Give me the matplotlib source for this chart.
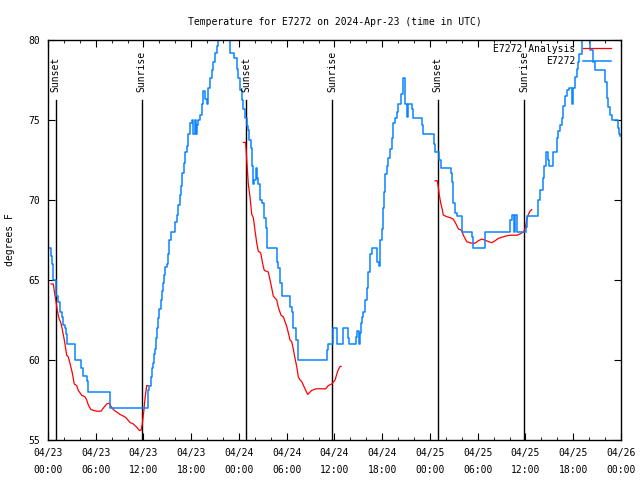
import numpy as np
import matplotlib
matplotlib.use('Agg')
import matplotlib.pyplot as plt
from matplotlib.ticker import MultipleLocator

nan = np.nan

# hours since 2024-04-23 00:00 UTC, temperature in F
obs_h = [0.00, 0.34, 0.46, 0.67, 1.01, 1.26, 1.51, 1.80, 1.92, 2.14, 2.26, 2.39, 3.39, 4.11, 4.44,
         4.86, 4.99, 7.79, 12.60, 12.73, 12.91, 13.11, 13.23, 13.32, 13.45, 13.57, 13.74, 13.86,
         13.99, 14.16, 14.29, 14.42, 14.58, 14.70, 14.92, 15.12, 15.24, 15.42, 15.96, 16.17, 16.37,
         16.59, 16.71, 16.88, 17.09, 17.22, 17.43, 17.63, 17.84, 18.06, 18.25, 18.45, 18.55, 18.69,
         18.89, 19.10, 19.31, 19.52, 19.73, 19.94, 20.14, 20.36, 20.57, 20.77, 20.99, 21.20, 21.40,
         21.61, 21.87, 22.12, 22.37, 22.65, 22.87, 23.40, 23.71, 23.91, 24.13, 24.34, 24.54, 24.76,
         24.97, 25.17, 25.30, 25.47, 25.60, 25.72, 25.89, 26.10, 26.23, 26.43, 26.64, 26.93, 27.14,
         27.39, 27.48, 28.74, 28.94, 29.15, 29.37, 30.41, 30.62, 30.75, 31.16, 31.38, 31.45, 35.10,
         35.22, 35.78, 36.28, 36.36, 37.03, 37.74, 37.86, 38.70, 38.87, 39.02, 39.21, 39.33, 39.50,
         39.62, 39.84, 40.05, 40.25, 40.46, 40.68, 41.31, 41.56, 41.66, 41.72, 41.93, 42.06, 42.22,
         42.35, 42.56, 42.76, 42.98, 43.19, 43.39, 43.61, 43.82, 44.02, 44.32, 44.57, 44.65, 44.86,
         45.07, 45.27, 45.70, 45.91, 46.96, 47.16, 48.51, 48.63, 49.17, 49.35, 50.60, 50.73, 50.86,
         50.93, 51.15, 51.36, 52.06, 53.24, 53.37, 54.91, 58.06, 58.27, 58.56, 58.69, 58.97, 60.03,
         60.16, 61.61, 61.83, 62.24, 62.37, 62.58, 62.83, 63.00, 63.50, 63.92, 64.12, 64.34, 64.55,
         64.75, 64.97, 65.18, 65.51, 65.85, 66.03, 66.22, 66.44, 66.56, 66.76, 67.07, 67.23, 67.48,
         67.73, 67.98, 68.11, 68.52, 68.74, 69.99, 70.20, 70.41, 70.62, 70.84, 71.67, 71.79, 71.88]
obs_t = [67.0, 66.5, 66.0, 65.0, 64.0, 63.6, 63.0, 62.7, 62.2, 62.0, 61.6, 61.0, 60.0, 59.5, 59.0,
         58.7, 58.0, 57.0, 58.1, 58.4, 58.95, 59.5, 59.8, 60.4, 60.7, 61.35, 62.0, 62.6,
         63.2, 63.75, 64.3, 64.8, 65.3, 65.8, 66.0, 66.6, 67.5, 68.0, 68.6, 69.06, 69.7,
         70.3, 70.9, 71.7, 72.3, 73.0, 73.4, 74.1, 74.8, 75.0, 74.1, 75.0, 74.1, 74.7,
         75.0, 75.3, 76.0, 76.8, 76.3, 76.0, 77.0, 77.6, 78.1, 78.6, 79.2, 79.6, 80.0,
         80.5, 81.0, 80.5, 81.0, 80.0, 79.2, 78.9, 78.2, 77.6, 76.9, 76.25, 75.7, 75.1,
         74.6, 74.4, 73.75, 73.25, 72.1, 71.0, 71.25, 72.0, 71.4, 71.0, 70.0, 69.8, 68.9,
         68.25, 67.0, 66.1, 65.75, 64.8, 64.0, 63.3, 63.0, 62.0, 61.25, 60.6, 60.0, 60.6,
         61.0, 62.0, 61.45, 61.0, 62.0, 61.35, 61.0, 61.45, 61.8, 61.0, 61.7, 62.3, 62.7,
         63.0, 63.75, 64.5, 65.5, 66.6, 67.0, 66.1, 65.9, 66.5, 67.5, 68.2, 69.5, 70.5,
         71.6, 72.1, 72.6, 73.2, 73.85, 74.8, 75.1, 75.5, 76.0, 76.6, 77.0, 77.6, 76.0,
         75.2, 76.0, 75.7, 75.1, 74.7, 74.1, 73.5, 73.0, 72.5, 72.0, 71.7, 71.1, 70.5,
         69.8, 69.2, 69.0, 68.0, 67.7, 67.0, 68.0, 68.75, 69.06, 68.0, 69.06, 68.0, 68.3,
         69.0, 70.0, 70.6, 71.35, 72.1, 73.0, 72.5, 72.1, 73.0, 73.85, 74.3, 74.7, 75.1,
         75.9, 76.5, 76.9, 77.0, 76.0, 77.0, 77.7, 78.2, 78.6, 79.1, 80.0, 80.5, 80.0,
         80.5, 80.0, 79.4, 78.6, 78.1, 77.4, 76.4, 75.8, 75.3, 75.0, 74.5, 74.1, 74.0]

ana_h = [0.38, 0.67, 0.79, 1.01, 1.17, 1.38, 1.63, 1.80, 2.05, 2.35, 2.55, 2.76, 3.05, 3.30, 3.61,
         3.81, 4.23, 4.65, 4.86, 5.06, 5.40, 6.12, 6.66, 6.95, 7.38, 7.67, 7.92, 8.21, 8.63, 9.05,
         9.46, 9.79, 10.30, 10.72, 11.15, 11.47, 11.69, 11.85, 12.06, 12.19, 12.40, 12.60, nan,
         24.54, 24.82, 24.89, 24.97, 25.17, 25.38, 25.60, 25.80, 26.01, 26.23, 26.43, 26.73, 26.98,
         27.18, 27.68, 27.90, 28.11, 28.31, 28.74, 28.94, 29.28, 29.57, 29.78, 30.00, 30.20, 30.41,
         30.62, 30.82, 31.04, 31.25, 31.45, 31.67, 31.88, 32.30, 32.63, 33.14, 33.68, 34.39, 34.90,
         35.22, 35.65, 36.07, 36.40, 36.69, 36.82, nan,
         48.63, 48.92, 49.05, 49.17, 49.35, 49.55, 49.67, 50.10, 50.52, 50.93, 51.27, 51.56, 51.99,
         52.19, 52.61, 53.24, 53.66, 54.07, 54.50, 54.91, 55.33, 55.76, 56.17, 56.59, 57.01, 57.55,
         58.06, 58.97, 59.40, 59.73, 59.94, 60.16, 60.36, 60.57, 60.78]
ana_t = [64.75, 64.75, 64.3, 63.65, 63.1, 62.6, 62.3, 61.9, 61.25, 60.3, 60.2, 59.8, 59.2, 58.5, 58.4,
         58.1, 57.8, 57.7, 57.5, 57.2, 56.9, 56.8, 56.8, 57.0, 57.25, 57.3, 57.1, 56.9, 56.75, 56.6,
         56.5, 56.4, 56.1, 56.0, 55.8, 55.6, 55.6, 56.0, 56.9, 57.6, 58.4, 58.4, nan,
         73.6, 73.6, 73.2, 72.5, 71.0, 70.2, 69.1, 68.9, 68.1, 67.3, 66.8, 66.7, 66.0,
         65.6, 65.5, 65.0, 64.5, 64.0, 63.75, 63.3, 62.8, 62.7, 62.4, 62.1, 61.7, 61.25,
         61.15, 60.7, 60.1, 59.6, 58.95, 58.75, 58.65, 58.2, 57.85, 58.1, 58.2, 58.2, 58.2,
         58.4, 58.5, 58.75, 59.3, 59.6, 59.6, nan,
         71.2, 71.2, 70.8, 70.3, 69.8, 69.4, 69.06, 68.96, 68.9, 68.8, 68.5, 68.2, 68.1,
         67.8, 67.4, 67.3, 67.3, 67.45, 67.56, 67.5, 67.4, 67.33, 67.45, 67.6, 67.67, 67.75,
         67.8, 67.8, 67.9, 68.0, 68.2, 68.75, 69.1, 69.3, 69.4]

sun_h = [0.95, 11.75, 24.92, 35.73, 48.97, 59.87]
sun_lbl = ['Sunset', 'Sunrise', 'Sunset', 'Sunrise', 'Sunset', 'Sunrise']

tick_h = list(range(0, 73, 6))
tick_lbl = ['04/23\n00:00', '04/23\n06:00', '04/23\n12:00', '04/23\n18:00',
            '04/24\n00:00', '04/24\n06:00', '04/24\n12:00', '04/24\n18:00',
            '04/25\n00:00', '04/25\n06:00', '04/25\n12:00', '04/25\n18:00',
            '04/26\n00:00']

plt.rcParams['font.family'] = 'DejaVu Sans Mono'
plt.rcParams['font.size'] = 7

fig = plt.figure(figsize=(6.4, 4.8), dpi=100)
ax = fig.add_axes([0.075, 0.0833, 0.8953, 0.8334])

for h, s in zip(sun_h, sun_lbl):
    ax.plot([h, h], [55, 76.25], color='black', lw=1.0)
    ax.text(h, 76.75, s, rotation=90, ha='center', va='bottom')

ax.plot(ana_h, ana_t, color='#ff0000', lw=0.9, label='E7272 Analysis')
ax.plot(obs_h, obs_t, color='#0a84ff', lw=1.1, drawstyle='steps-post', label='E7272')

ax.set_xlim(0, 72)
ax.set_ylim(55, 80)
ax.set_xticks(tick_h)
ax.set_xticklabels(tick_lbl, linespacing=1.8)
ax.xaxis.set_minor_locator(MultipleLocator(2))
ax.set_yticks([55, 60, 65, 70, 75, 80])
ax.tick_params(which='both', direction='in', top=True, right=True, color='black')
ax.tick_params(which='major', length=5, pad=6)
ax.tick_params(which='minor', length=2.5)
for sp in ax.spines.values():
    sp.set_linewidth(1.0)

ax.set_ylabel('degrees F', labelpad=9)
ax.set_title('Temperature for E7272 on 2024-Apr-23 (time in UTC)', fontsize=7, pad=11)

ax.legend(loc='upper right', frameon=False, markerfirst=False, handlelength=2.9,
          handletextpad=0.8, borderaxespad=0.1, borderpad=0.3, labelspacing=0.25,
          bbox_to_anchor=(0.99, 1.0))

fig.savefig('out.png', dpi=100)
